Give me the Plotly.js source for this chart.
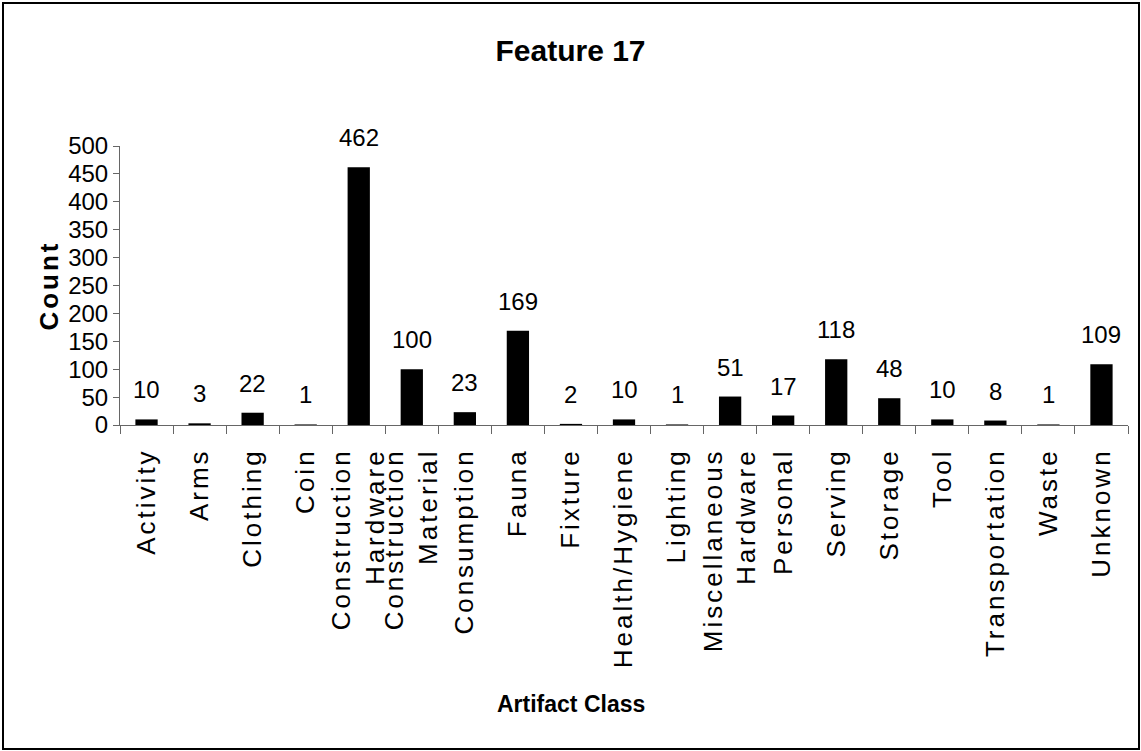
<!DOCTYPE html>
<html>
<head>
<meta charset="utf-8">
<script src="https://cdn.plot.ly/plotly-3.0.1.min.js"></script>
<style>
html, body { margin: 0; padding: 0; background: #fff; }
#frame { position: absolute; left: 2px; top: 2px; width: 1134px; height: 744px; border: 2px solid #000; }
#chart { position: absolute; left: 0; top: 0; width: 1141px; height: 751px; }
.xtick text { letter-spacing: 3px !important; }
.ytitle { letter-spacing: 3px !important; }
</style>
</head>
<body>
<div id="frame"></div>
<div id="chart"></div>
<script>
var categories = ["Activity", "Arms", "Clothing", "Coin", "Construction<br>Hardware", "Construction<br>Material",
  "Consumption", "Fauna", "Fixture", "Health/Hygiene", "Lighting", "Miscellaneous<br>Hardware", "Personal",
  "Serving", "Storage", "Tool", "Transportation", "Waste", "Unknown"];
var counts = [10, 3, 22, 1, 462, 100, 23, 169, 2, 10, 1, 51, 17, 118, 48, 10, 8, 1, 109];
var yTicks = [0, 50, 100, 150, 200, 250, 300, 350, 400, 450, 500];

var font = "'Liberation Sans', Arial, sans-serif";

var trace = {
  type: 'bar',
  x: categories,
  y: counts,
  marker: { color: '#000000', line: { width: 0 } },
  width: 0.42,
  hoverinfo: 'x+y'
};

var labelAnnotations = categories.map(function (c, i) {
  return {
    x: c, y: counts[i], xref: 'x', yref: 'y',
    text: String(counts[i]), showarrow: false,
    yanchor: 'bottom', xanchor: 'center', yshift: 14,
    font: { family: font, size: 24, color: '#000' }
  };
});

labelAnnotations.push({
  text: 'Artifact Class', xref: 'paper', yref: 'paper',
  x: 0.447, y: -1.0, xanchor: 'center', yanchor: 'middle', showarrow: false,
  font: { family: font, size: 23, color: '#000', weight: 'bold' }
});

var layout = {
  width: 1141, height: 751,
  paper_bgcolor: 'rgba(0,0,0,0)', plot_bgcolor: '#ffffff',
  margin: { l: 120, r: 13, t: 146, b: 326 },
  showlegend: false,
  title: { text: 'Feature 17', x: 0.5, xanchor: 'center', y: 0.933, yanchor: 'middle',
    font: { family: font, size: 30, color: '#000', weight: 'bold' } },
  xaxis: {
    type: 'category',
    tickangle: -90,
    tickson: 'boundaries',
    ticks: 'outside', ticklen: 8, tickcolor: '#666', tickwidth: 1,
    ticklabelstandoff: 12,
    showline: true, linecolor: '#666', linewidth: 1,
    showgrid: false,
    tickfont: { family: font, size: 26, color: '#000' },
    automargin: false
  },
  yaxis: {
    range: [0, 500],
    tickvals: yTicks,
    ticktext: yTicks.map(String),
    ticks: 'outside', ticklen: 6, tickcolor: '#666', tickwidth: 1,
    showline: true, linecolor: '#666', linewidth: 1,
    showgrid: false, zeroline: false,
    tickfont: { family: font, size: 24, color: '#000' },
    title: { text: 'Count', font: { family: font, size: 26, color: '#000', weight: 'bold' } },
    automargin: false
  },
  annotations: labelAnnotations
};

Plotly.newPlot('chart', [trace], layout, { displayModeBar: false, staticPlot: true });
</script>
</body>
</html>
